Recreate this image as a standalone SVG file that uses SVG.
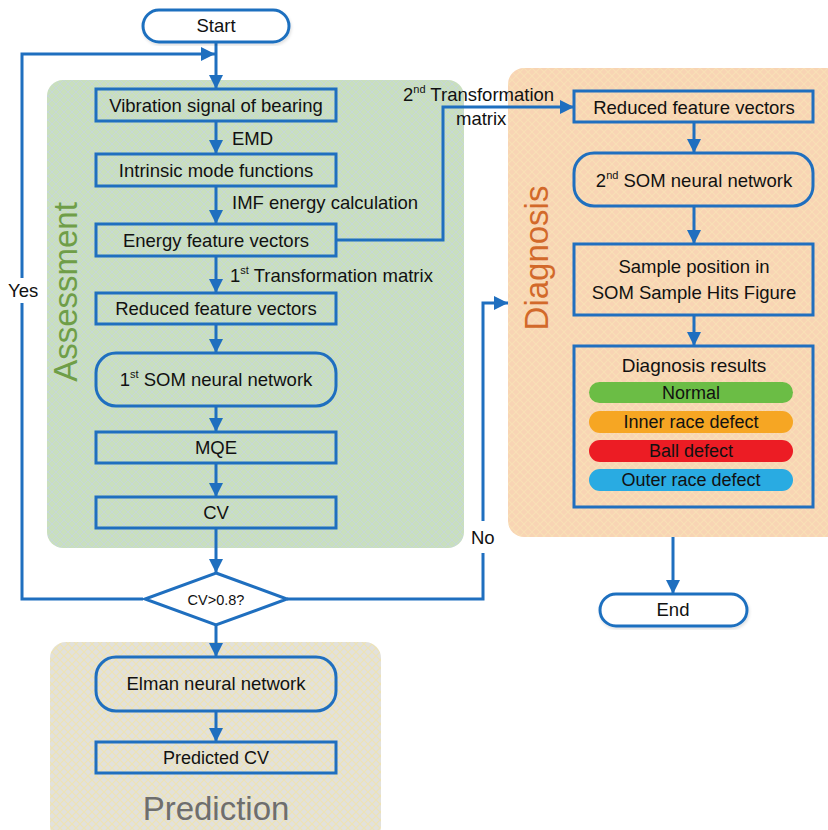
<svg xmlns="http://www.w3.org/2000/svg" width="828" height="830" viewBox="0 0 828 830">
<style>
text{font-family:"Liberation Sans",Arial,sans-serif;fill:#111;}
.n{fill:none;stroke:#1f6fbf;stroke-width:3;}
.t{fill:#fff;stroke:#1f6fbf;stroke-width:3;}
.c{fill:none;stroke:#1f6fbf;stroke-width:3;}
.lb{font-size:18.5px;text-anchor:middle;}
.el{font-size:18.5px;}
.sup{font-size:11px;}
.pill{stroke:none;}
.pt{font-size:18px;text-anchor:middle;}
.area{font-size:33px;}
</style>
<defs>
<marker id="ah" markerUnits="userSpaceOnUse" markerWidth="16" markerHeight="14" refX="14" refY="7" orient="auto">
<path d="M0,0 L14,7 L0,14 Z" fill="#1f6fbf"/>
</marker>
<pattern id="hatchG" width="8" height="8" patternUnits="userSpaceOnUse">
<rect width="8" height="8" fill="#c9dfbe"/>
<path d="M0,0 L8,8 M8,0 L0,8" stroke="#c6d6dc" stroke-width="0.9"/>
</pattern>
<pattern id="hatchO" width="8" height="8" patternUnits="userSpaceOnUse">
<rect width="8" height="8" fill="#f8d4b4"/>
<path d="M0,0 L8,8 M8,0 L0,8" stroke="#f9e0b6" stroke-width="1.2"/>
</pattern>
<pattern id="hatchP" width="8" height="8" patternUnits="userSpaceOnUse">
<rect width="8" height="8" fill="#e2e1dc"/>
<path d="M0,0 L8,8 M8,0 L0,8" stroke="#eee3b4" stroke-width="1.2"/>
</pattern>
<filter id="sh" x="-5%" y="-5%" width="110%" height="115%">
<feDropShadow dx="1" dy="2" stdDeviation="1.5" flood-color="#000" flood-opacity="0.12"/>
</filter>
</defs>

<g id="areas">
<g id="assessment-area">
<rect x="47" y="80" width="417" height="468" rx="16" fill="url(#hatchG)"/>
<text class="area" transform="translate(77,292) rotate(-90)" text-anchor="middle" style="fill:#6f9e48">Assessment</text>
</g>
<g id="diagnosis-area">
<rect x="508" y="68" width="340" height="469" rx="16" fill="url(#hatchO)"/>
<text class="area" transform="translate(548,258) rotate(-90)" text-anchor="middle" style="fill:#d2692a">Diagnosis</text>
</g>
<g id="prediction-area">
<rect x="50" y="642" width="331" height="200" rx="16" fill="url(#hatchP)"/>
<text class="area" x="216" y="820" text-anchor="middle" style="fill:#6e6e6e">Prediction</text>
</g>
</g>

<g id="connectors">
<line class="c" x1="216" y1="42" x2="216" y2="89" marker-end="url(#ah)"/>
<polyline class="c" points="143,599 22,599 22,303"/>
<polyline class="c" points="22,278 22,54 215,54" marker-end="url(#ah)"/>
<line class="c" x1="216" y1="121" x2="216" y2="154" marker-end="url(#ah)"/>
<line class="c" x1="216" y1="186" x2="216" y2="224" marker-end="url(#ah)"/>
<line class="c" x1="216" y1="256" x2="216" y2="293" marker-end="url(#ah)"/>
<line class="c" x1="216" y1="324" x2="216" y2="353" marker-end="url(#ah)"/>
<line class="c" x1="216" y1="406" x2="216" y2="432" marker-end="url(#ah)"/>
<line class="c" x1="216" y1="463" x2="216" y2="497" marker-end="url(#ah)"/>
<line class="c" x1="216" y1="528" x2="216" y2="573" marker-end="url(#ah)"/>
<line class="c" x1="216" y1="625" x2="216" y2="657" marker-end="url(#ah)"/>
<line class="c" x1="216" y1="711" x2="216" y2="742" marker-end="url(#ah)"/>
<polyline class="c" points="336,240 443,240 443,107 574,107" marker-end="url(#ah)"/>
<polyline class="c" points="287,599 483,599 483,553"/>
<polyline class="c" points="483,521 483,303 508,303" marker-end="url(#ah)"/>
<line class="c" x1="694" y1="122" x2="694" y2="153" marker-end="url(#ah)"/>
<line class="c" x1="694" y1="206" x2="694" y2="244" marker-end="url(#ah)"/>
<line class="c" x1="694" y1="315" x2="694" y2="346" marker-end="url(#ah)"/>
<line class="c" x1="673" y1="537" x2="673" y2="594" marker-end="url(#ah)"/>
<text class="el" x="232" y="145">EMD</text>
<text class="el" x="232" y="209">IMF energy calculation</text>
<text class="el" x="230" y="282">1<tspan class="sup" dy="-8">st</tspan><tspan dy="8"> Transformation matrix</tspan></text>
<text class="el" x="403" y="101">2<tspan class="sup" dy="-8">nd</tspan><tspan dy="8"> Transformation</tspan></text>
<text class="el" x="456" y="125">matrix</text>
<text class="el" x="8" y="297">Yes</text>
<text class="el" x="471" y="544">No</text>
</g>

<g id="start">
<rect class="t" x="143" y="10" width="146" height="32" rx="16" filter="url(#sh)"/>
<text class="lb" x="216" y="32">Start</text>
</g>
<g id="vibration">
<rect class="n" x="96" y="89" width="240" height="32"/>
<text class="lb" x="216" y="112">Vibration signal of bearing</text>
</g>
<g id="imf">
<rect class="n" x="96" y="154" width="240" height="32"/>
<text class="lb" x="216" y="177">Intrinsic mode functions</text>
</g>
<g id="energy">
<rect class="n" x="96" y="224" width="240" height="32"/>
<text class="lb" x="216" y="247">Energy feature vectors</text>
</g>
<g id="reduced1">
<rect class="n" x="96" y="293" width="240" height="31"/>
<text class="lb" x="216" y="315">Reduced feature vectors</text>
</g>
<g id="som1">
<rect class="n" x="96" y="353" width="240" height="53" rx="20"/>
<text class="lb" x="216" y="386">1<tspan class="sup" dy="-8">st</tspan><tspan dy="8"> SOM neural network</tspan></text>
</g>
<g id="mqe">
<rect class="n" x="96" y="432" width="240" height="31"/>
<text class="lb" x="216" y="454">MQE</text>
</g>
<g id="cv">
<rect class="n" x="96" y="497" width="240" height="31"/>
<text class="lb" x="216" y="519">CV</text>
</g>
<g id="decision">
<polygon class="t" points="216,573 287,599 216,625 145,599"/>
<text x="216" y="605" text-anchor="middle" style="font-size:14.5px">CV&gt;0.8?</text>
</g>
<g id="elman">
<rect class="n" x="96" y="657" width="240" height="54" rx="20"/>
<text x="216" y="690" text-anchor="middle" style="font-size:18.5px">Elman neural network</text>
</g>
<g id="predicted">
<rect class="n" x="96" y="742" width="240" height="31"/>
<text x="216" y="764" text-anchor="middle" style="font-size:18px">Predicted CV</text>
</g>
<g id="reduced2">
<rect class="n" x="574" y="91" width="239" height="31"/>
<text class="lb" x="694" y="114">Reduced feature vectors</text>
</g>
<g id="som2">
<rect class="n" x="574" y="153" width="239" height="53" rx="20"/>
<text class="lb" x="694" y="187">2<tspan class="sup" dy="-8">nd</tspan><tspan dy="8"> SOM neural network</tspan></text>
</g>
<g id="sample">
<rect class="n" x="574" y="244" width="239" height="71"/>
<text class="lb" x="694" y="273">Sample position in</text>
<text class="lb" x="694" y="299">SOM Sample Hits Figure</text>
</g>
<g id="results">
<rect class="n" x="574" y="346" width="239" height="161"/>
<text x="694" y="372" text-anchor="middle" style="font-size:19px">Diagnosis results</text>
<rect class="pill" x="589" y="382" width="204" height="21" rx="10.5" fill="#6bbd45"/>
<text class="pt" x="691" y="399">Normal</text>
<rect class="pill" x="589" y="411" width="204" height="22" rx="11" fill="#f6a623"/>
<text class="pt" x="691" y="428">Inner race defect</text>
<rect class="pill" x="589" y="440" width="204" height="22" rx="11" fill="#ec1c24"/>
<text class="pt" x="691" y="457">Ball defect</text>
<rect class="pill" x="589" y="469" width="204" height="22" rx="11" fill="#29abe2"/>
<text class="pt" x="691" y="486">Outer race defect</text>
</g>
<g id="end">
<rect class="t" x="600" y="594" width="147" height="32" rx="16" filter="url(#sh)"/>
<text class="lb" x="673" y="616">End</text>
</g>
</svg>
